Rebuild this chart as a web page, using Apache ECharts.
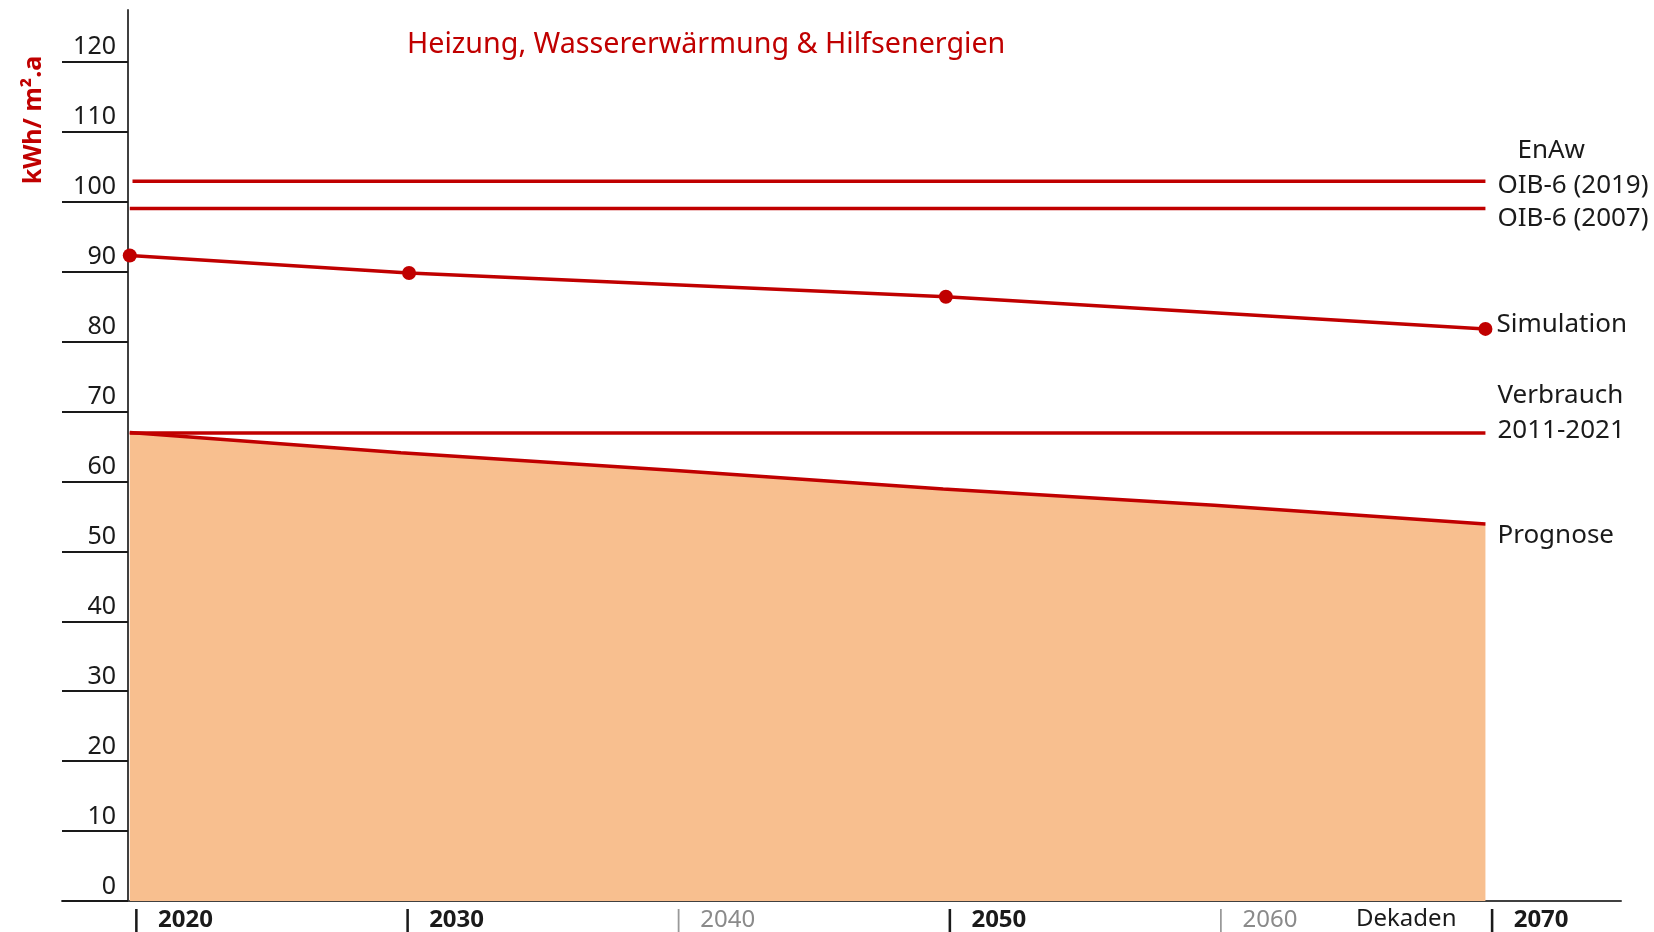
<!DOCTYPE html>
<html>
<head>
<meta charset="utf-8">
<script src="https://cdn.jsdelivr.net/npm/echarts@6/dist/echarts.min.js"></script>
<style>
    html, body { margin: 0; padding: 0; background: #fff; }
    #chart { width: 1654px; height: 932px; }
</style>
</head>
<body>
<div id="chart"></div>
<script>
    // Werte
    var decades = [2020, 2030, 2040, 2050, 2060, 2070];
    var decadeBold = [true, true, false, true, false, true];
    var yTicks = [0, 10, 20, 30, 40, 50, 60, 70, 80, 90, 100, 110, 120];

    var prognoseYears = [2020, 2030, 2040, 2050, 2060, 2070];
    var prognoseValues = [67, 64.1, 61.6, 58.9, 56.6, 53.9];

    var simulationYears = [2020, 2030.3, 2050.1, 2070];
    var simulationValues = [92.3, 89.8, 86.4, 81.8];

    var verbrauchYears = [2020, 2070];
    var verbrauchValues = [66.9, 66.9];

    var oib2007Years = [2020, 2070];
    var oib2007Values = [99.0, 99.0];

    var oib2019Years = [2020.1, 2070];
    var oib2019Values = [102.9, 102.9];

    var RED = '#C00000';
    var FONT = '"Noto Sans", "Open Sans", sans-serif';

    function pairs(xs, ys) {
        var out = [];
        for (var i = 0; i < xs.length; i++) out.push([xs[i], ys[i]]);
        return out;
    }

    function endLbl(text, dx, dy, rich) {
        return {
            show: true, formatter: text, color: '#1a1a1a', fontFamily: FONT, fontSize: 26, lineHeight: 35,
            align: 'left', verticalAlign: 'middle', distance: 0, offset: [dx, dy], rich: rich || {}
        };
    }

    var myChart = echarts.init(document.getElementById('chart'));
    var charts_option = {};

    charts_option['animation'] = false;
    charts_option['title'] = [
        {text: 'Heizung, Wassererwärmung & Hilfsenergien', left: 402, top: 25,
         textStyle: {color: RED, fontFamily: FONT, fontSize: 28.7, fontWeight: 'normal'}},
        {text: 'Dekaden', left: 1351, top: 902,
         textStyle: {color: '#1a1a1a', fontFamily: FONT, fontSize: 24, fontWeight: 'normal'}}
    ];
    charts_option['graphic'] = [{
        type: 'text', x: 34, y: 120, rotation: Math.PI / 2,
        style: {text: 'kWh/ m².a', fill: RED, font: 'bold 25px ' + FONT, align: 'center', verticalAlign: 'middle'}
    }];

    charts_option['grid'] = {left: 62, right: 33, top: 10, bottom: 31};

    charts_option['xAxis'] = {
        type: 'value', min: 2017.5, max: 2075,
        axisLine: {lineStyle: {color: '#404040', width: 2}},
        splitLine: {show: false},
        axisTick: {show: false},
        axisLabel: {
            customValues: decades, margin: 7, align: 'left',
            formatter: function (v) {
                var i = decades.indexOf(v);
                return decadeBold[i] ? '{bar||}{b|' + v + '}' : '{gbar||}{g|' + v + '}';
            },
            rich: {
                bar: {color: '#1a1a1a', fontFamily: FONT, fontSize: 24, fontWeight: 'bold'},
                b: {color: '#1a1a1a', fontFamily: FONT, fontSize: 24, fontWeight: 'bold', padding: [0, 0, 0, 15]},
                gbar: {color: '#999', fontFamily: FONT, fontSize: 24},
                g: {color: '#8a8a8a', fontFamily: FONT, fontSize: 24, padding: [0, 0, 0, 15]}
            }
        }
    };

    charts_option['yAxis'] = {
        type: 'value', min: 0, max: 127.4, offset: -66,
        axisLine: {show: true, lineStyle: {color: '#404040', width: 2}},
        splitLine: {show: false},
        axisTick: {show: true, customValues: yTicks, length: 66, lineStyle: {color: '#1a1a1a', width: 2}},
        axisLabel: {
            customValues: yTicks, margin: 12, align: 'right', verticalAlign: 'bottom',
            color: '#1a1a1a', fontFamily: FONT, fontSize: 25, padding: [0, 0, 2, 0]
        }
    };

    charts_option['series'] = [
        {
            name: 'Prognose', type: 'line', data: pairs(prognoseYears, prognoseValues),
            symbol: 'none', lineStyle: {color: RED, width: 3.5},
            areaStyle: {color: '#F8BF8F', opacity: 1}, z: 2,
            endLabel: endLbl('Prognose', 12, 12)
        },
        {
            name: 'Verbrauch', type: 'line', data: pairs(verbrauchYears, verbrauchValues),
            symbol: 'none', lineStyle: {color: RED, width: 3.5}, z: 3,
            endLabel: endLbl('Verbrauch\n2011-2021', 12, -20)
        },
        {
            name: 'Simulation', type: 'line', data: pairs(simulationYears, simulationValues),
            symbol: 'circle', symbolSize: 14, showAllSymbol: true,
            itemStyle: {color: RED}, lineStyle: {color: RED, width: 3.5}, z: 4,
            endLabel: endLbl('Simulation', 11, -4)
        },
        {
            name: 'OIB-6 (2007)', type: 'line', data: pairs(oib2007Years, oib2007Values),
            symbol: 'none', lineStyle: {color: RED, width: 3.5}, z: 3,
            endLabel: endLbl('OIB-6 (2007)', 12, 10)
        },
        {
            name: 'EnAw OIB-6 (2019)', type: 'line', data: pairs(oib2019Years, oib2019Values),
            symbol: 'none', lineStyle: {color: RED, width: 3.5}, z: 3,
            endLabel: endLbl('{e|EnAw}\nOIB-6 (2019)', 12, -13, {
                e: {color: '#1a1a1a', fontFamily: FONT, fontSize: 26, lineHeight: 35, padding: [0, 0, 0, 20]}
            })
        }
    ];

    myChart.setOption(charts_option);
</script>
</body>
</html>
